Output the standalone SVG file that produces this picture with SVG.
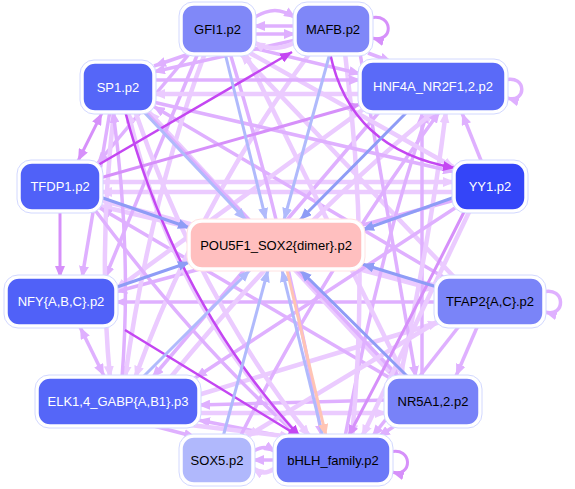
<svg xmlns="http://www.w3.org/2000/svg" width="575" height="489" viewBox="0 0 575 489">
<defs>
<marker id="a1" markerUnits="userSpaceOnUse" markerWidth="12" markerHeight="10" refX="12" refY="5" orient="auto-start-reverse"><path d="M0,0 L12,5 L0,10 z" fill="#ebcbff"/></marker>
<marker id="a2" markerUnits="userSpaceOnUse" markerWidth="12" markerHeight="10" refX="12" refY="5" orient="auto-start-reverse"><path d="M0,0 L12,5 L0,10 z" fill="#dfb0ff"/></marker>
<marker id="a3" markerUnits="userSpaceOnUse" markerWidth="12" markerHeight="10" refX="12" refY="5" orient="auto-start-reverse"><path d="M0,0 L12,5 L0,10 z" fill="#d690fa"/></marker>
<marker id="a4" markerUnits="userSpaceOnUse" markerWidth="12" markerHeight="10" refX="12" refY="5" orient="auto-start-reverse"><path d="M0,0 L12,5 L0,10 z" fill="#c446f2"/></marker>
<marker id="ab1" markerUnits="userSpaceOnUse" markerWidth="12" markerHeight="10" refX="12" refY="5" orient="auto"><path d="M0,0 L12,5 L0,10 z" fill="#b0bafc"/></marker>
<marker id="ab2" markerUnits="userSpaceOnUse" markerWidth="12" markerHeight="10" refX="12" refY="5" orient="auto"><path d="M0,0 L12,5 L0,10 z" fill="#8e9cf6"/></marker>
<marker id="ap" markerUnits="userSpaceOnUse" markerWidth="12" markerHeight="10" refX="12" refY="5" orient="auto"><path d="M0,0 L12,5 L0,10 z" fill="#ffc4b4"/></marker>
</defs>
<style>
#edges path{fill:none;stroke-linecap:butt}
.l1{stroke:#ebcbff;stroke-width:4.5;marker-end:url(#a1)}
.l2{stroke:#dfb0ff;stroke-width:3.5;marker-end:url(#a2)}
.l3{stroke:#d690fa;stroke-width:3;marker-end:url(#a3)}
.l4{stroke:#c446f2;stroke-width:2.5;marker-end:url(#a4)}
.b1{stroke:#b0bafc;stroke-width:3;marker-end:url(#ab1)}
.b2{stroke:#8e9cf6;stroke-width:3;marker-end:url(#ab2)}
.pc{stroke:#ffc4b4;stroke-width:3;marker-end:url(#ap)}
.both2{marker-start:url(#a2)}
.both3{marker-start:url(#a3)}
.halo{fill:#fff;stroke:#d2d8ff;stroke-width:1}
.box{stroke:#fff;stroke-width:1.5}
text{font-family:"Liberation Sans",Arial,sans-serif;font-size:13px;text-anchor:middle;dominant-baseline:central}
.w{fill:#fff}
.k{fill:#000}
</style>
<rect width="575" height="489" fill="#fff"/>
<g id="edges">
<path class="l1" d="M100,182 L455,182"/>
<path class="l1" d="M455,192 L100,192"/>
<path class="l1" d="M100,200 L437,290"/>
<path class="l2" d="M455,200 L115,292"/>
<path class="l2" d="M437,302 L115,302"/>
<path class="l1" d="M198,395 L440,322"/>
<path class="l2" d="M387,400 L198,405"/>
<path class="l1" d="M198,413 L387,413"/>
<path class="l2" d="M286,437 L198,420"/>
<path class="l1" d="M190,425 L292,437"/>
<path class="l2" d="M150,425 L196,437"/>
<path class="l2" d="M396,425 L378,437"/>
<path class="l1" d="M395,378 L148,111"/>
<path class="l2" d="M445,278 L153,106"/>
<path class="l1" d="M455,278 L240,53"/>
<path class="l1" d="M437,286 L100,206"/>
<path class="l2" d="M390,378 L100,208"/>
<path class="l2" d="M422,378 L422,111"/>
<path class="l2" d="M345,437 Q380,250 428,111"/>
<path class="l1" d="M170,378 Q300,220 435,111"/>
<path class="l2" d="M240,437 Q330,260 440,111"/>
<path class="l1" d="M400,378 Q430,240 446,111"/>
<path class="l2" d="M380,111 L152,378"/>
<path class="l1" d="M365,108 L115,290"/>
<path class="l2" d="M198,53 L105,278"/>
<path class="l1" d="M205,53 Q150,200 125,378"/>
<path class="l2" d="M190,53 L97,164"/>
<path class="l2" d="M296,40 L153,72"/>
<path class="l1" d="M310,53 Q200,200 135,378"/>
<path class="l1" d="M345,53 Q370,250 352,437"/>
<path class="l2" d="M360,53 L416,378"/>
<path class="l2" d="M230,53 Q290,250 322,437"/>
<path class="l1" d="M245,53 L405,378"/>
<path class="l1" d="M114,111 Q98,250 110,378"/>
<path class="l2" d="M122,378 Q132,250 113,111"/>
<path class="l2" d="M145,111 L400,378"/>
<path class="l1" d="M135,111 Q200,300 310,437"/>
<path class="l2" d="M95,210 Q200,350 300,437"/>
<path class="l1" d="M300,437 Q170,300 128,111"/>
<path class="l2" d="M455,208 L195,378"/>
<path class="l1" d="M470,210 L362,437"/>
<path class="l2" d="M460,325 L372,437"/>
<path class="l1" d="M440,320 L246,437"/>
<path class="l2" d="M110,111 L82,278"/>
<path class="l2" d="M153,102 L455,172"/>
<path class="l1" d="M250,53 L455,168"/>
<path class="l3" d="M100,178 L361,104"/>
<path class="l2" d="M153,80 L361,80"/>
<path class="l1" d="M361,94 L153,94"/>
<path class="l2" d="M253,48 L361,74"/>
<path class="l2" d="M253,18 C270,8 280,8 296,18"/>
<path class="l2" d="M296,26 L253,26"/>
<path class="l2" d="M253,34 L296,34"/>
<path class="l1" d="M296,42 C280,50 268,50 253,42"/>
<path class="l3" d="M370,18 C394,12 394,44 372,38"/>
<path class="l2" d="M368,53 L392,62"/>
<path class="l2" d="M505,80 C527,74 527,104 507,98"/>
<path class="l2" d="M186,55 L154,66"/>
<path class="l3 both3" d="M102,113 L78,161"/>
<path class="l3" d="M60,210 L60,278"/>
<path class="l2 both2" d="M80,327 L104,376"/>
<path class="l2" d="M482,163 L462,113"/>
<path class="l2" d="M478,325 L456,376"/>
<path class="l2" d="M543,292 C566,286 566,318 545,312"/>
<path class="l2" d="M252,452 C262,446 266,446 276,452"/>
<path class="l1" d="M276,468 C266,474 262,474 252,468"/>
<path class="l2" d="M276,460 L252,460"/>
<path class="l3" d="M390,452 C413,446 413,478 392,472"/>
<path class="l3" d="M465,210 Q420,300 348,437"/>
<path class="l4" d="M98,165 L292,52"/>
<path class="l4" d="M330,53 Q350,150 455,168"/>
<path class="l4" d="M125,330 L300,437"/>
<path class="l4" d="M125,111 Q175,300 300,437"/>
<path class="b1" d="M225,53 L266,220"/>
<path class="b1" d="M143,111 L246,220"/>
<path class="b2" d="M100,197 L190,228"/>
<path class="b1" d="M330,53 L284,220"/>
<path class="b2" d="M408,111 L300,220"/>
<path class="b2" d="M455,197 L362,230"/>
<path class="b2" d="M117,287 L190,262"/>
<path class="b1" d="M143,377 L250,270"/>
<path class="b1" d="M223,437 L268,270"/>
<path class="b1" d="M323,437 L282,270"/>
<path class="b2" d="M408,377 L300,270"/>
<path class="b2" d="M437,287 L362,264"/>
<path class="pc" d="M287,270 L326,436"/>
</g>
<g id="n-GFI1"><rect class="halo" x="179" y="2" width="77" height="54" rx="14"/><rect class="box" x="182" y="5" width="71" height="48" rx="12" fill="#8088f8"/><text class="k" x="217.5" y="29">GFI1.p2</text></g>
<g id="n-MAFB"><rect class="halo" x="293" y="2" width="80" height="54" rx="14"/><rect class="box" x="296" y="5" width="74" height="48" rx="12" fill="#7f87f8"/><text class="k" x="333" y="29">MAFB.p2</text></g>
<g id="n-HNF4A"><rect class="halo" x="358" y="59" width="150" height="55" rx="14"/><rect class="box" x="361" y="62" width="144" height="49" rx="12" fill="#5a6af8"/><text class="w" x="433" y="86.5">HNF4A_NR2F1,2.p2</text></g>
<g id="n-SP1"><rect class="halo" x="80" y="60" width="76" height="54" rx="14"/><rect class="box" x="83" y="63" width="70" height="48" rx="12" fill="#5566f8"/><text class="w" x="118" y="87">SP1.p2</text></g>
<g id="n-TFDP1"><rect class="halo" x="17" y="160" width="86" height="53" rx="14"/><rect class="box" x="20" y="163" width="80" height="47" rx="12" fill="#5061f8"/><text class="w" x="60" y="186.5">TFDP1.p2</text></g>
<g id="n-YY1"><rect class="halo" x="452" y="160" width="76" height="53" rx="14"/><rect class="box" x="455" y="163" width="70" height="47" rx="12" fill="#3445f8"/><text class="w" x="490" y="186.5">YY1.p2</text></g>
<g id="n-POU5F1"><rect class="halo" x="187" y="219" width="178" height="52" rx="14" style="stroke:#ffe2e2"/><rect class="box" x="190" y="222" width="172" height="46" rx="12" fill="#ffbfbf"/><text class="k" x="276" y="245">POU5F1_SOX2{dimer}.p2</text></g>
<g id="n-NFY"><rect class="halo" x="4" y="275" width="114" height="53" rx="14"/><rect class="box" x="7" y="278" width="108" height="47" rx="12" fill="#5061f8"/><text class="w" x="61" y="301.5">NFY{A,B,C}.p2</text></g>
<g id="n-TFAP2"><rect class="halo" x="434" y="275" width="112" height="53" rx="14"/><rect class="box" x="437" y="278" width="106" height="47" rx="12" fill="#7a84f8"/><text class="k" x="490" y="301.5">TFAP2{A,C}.p2</text></g>
<g id="n-ELK1"><rect class="halo" x="35" y="375" width="166" height="53" rx="14"/><rect class="box" x="38" y="378" width="160" height="47" rx="12" fill="#5566f8"/><text class="w" x="118" y="401.5">ELK1,4_GABP{A,B1}.p3</text></g>
<g id="n-NR5A1"><rect class="halo" x="384" y="375" width="98" height="53" rx="14"/><rect class="box" x="387" y="378" width="92" height="47" rx="12" fill="#7882f8"/><text class="k" x="433" y="401.5">NR5A1,2.p2</text></g>
<g id="n-SOX5"><rect class="halo" x="179" y="434" width="76" height="52" rx="14"/><rect class="box" x="182" y="437" width="70" height="46" rx="12" fill="#b0b8fc"/><text class="k" x="217" y="460">SOX5.p2</text></g>
<g id="n-bHLH"><rect class="halo" x="273" y="434" width="120" height="52" rx="14"/><rect class="box" x="276" y="437" width="114" height="46" rx="12" fill="#6b78f8"/><text class="k" x="333" y="460">bHLH_family.p2</text></g>
</svg>
